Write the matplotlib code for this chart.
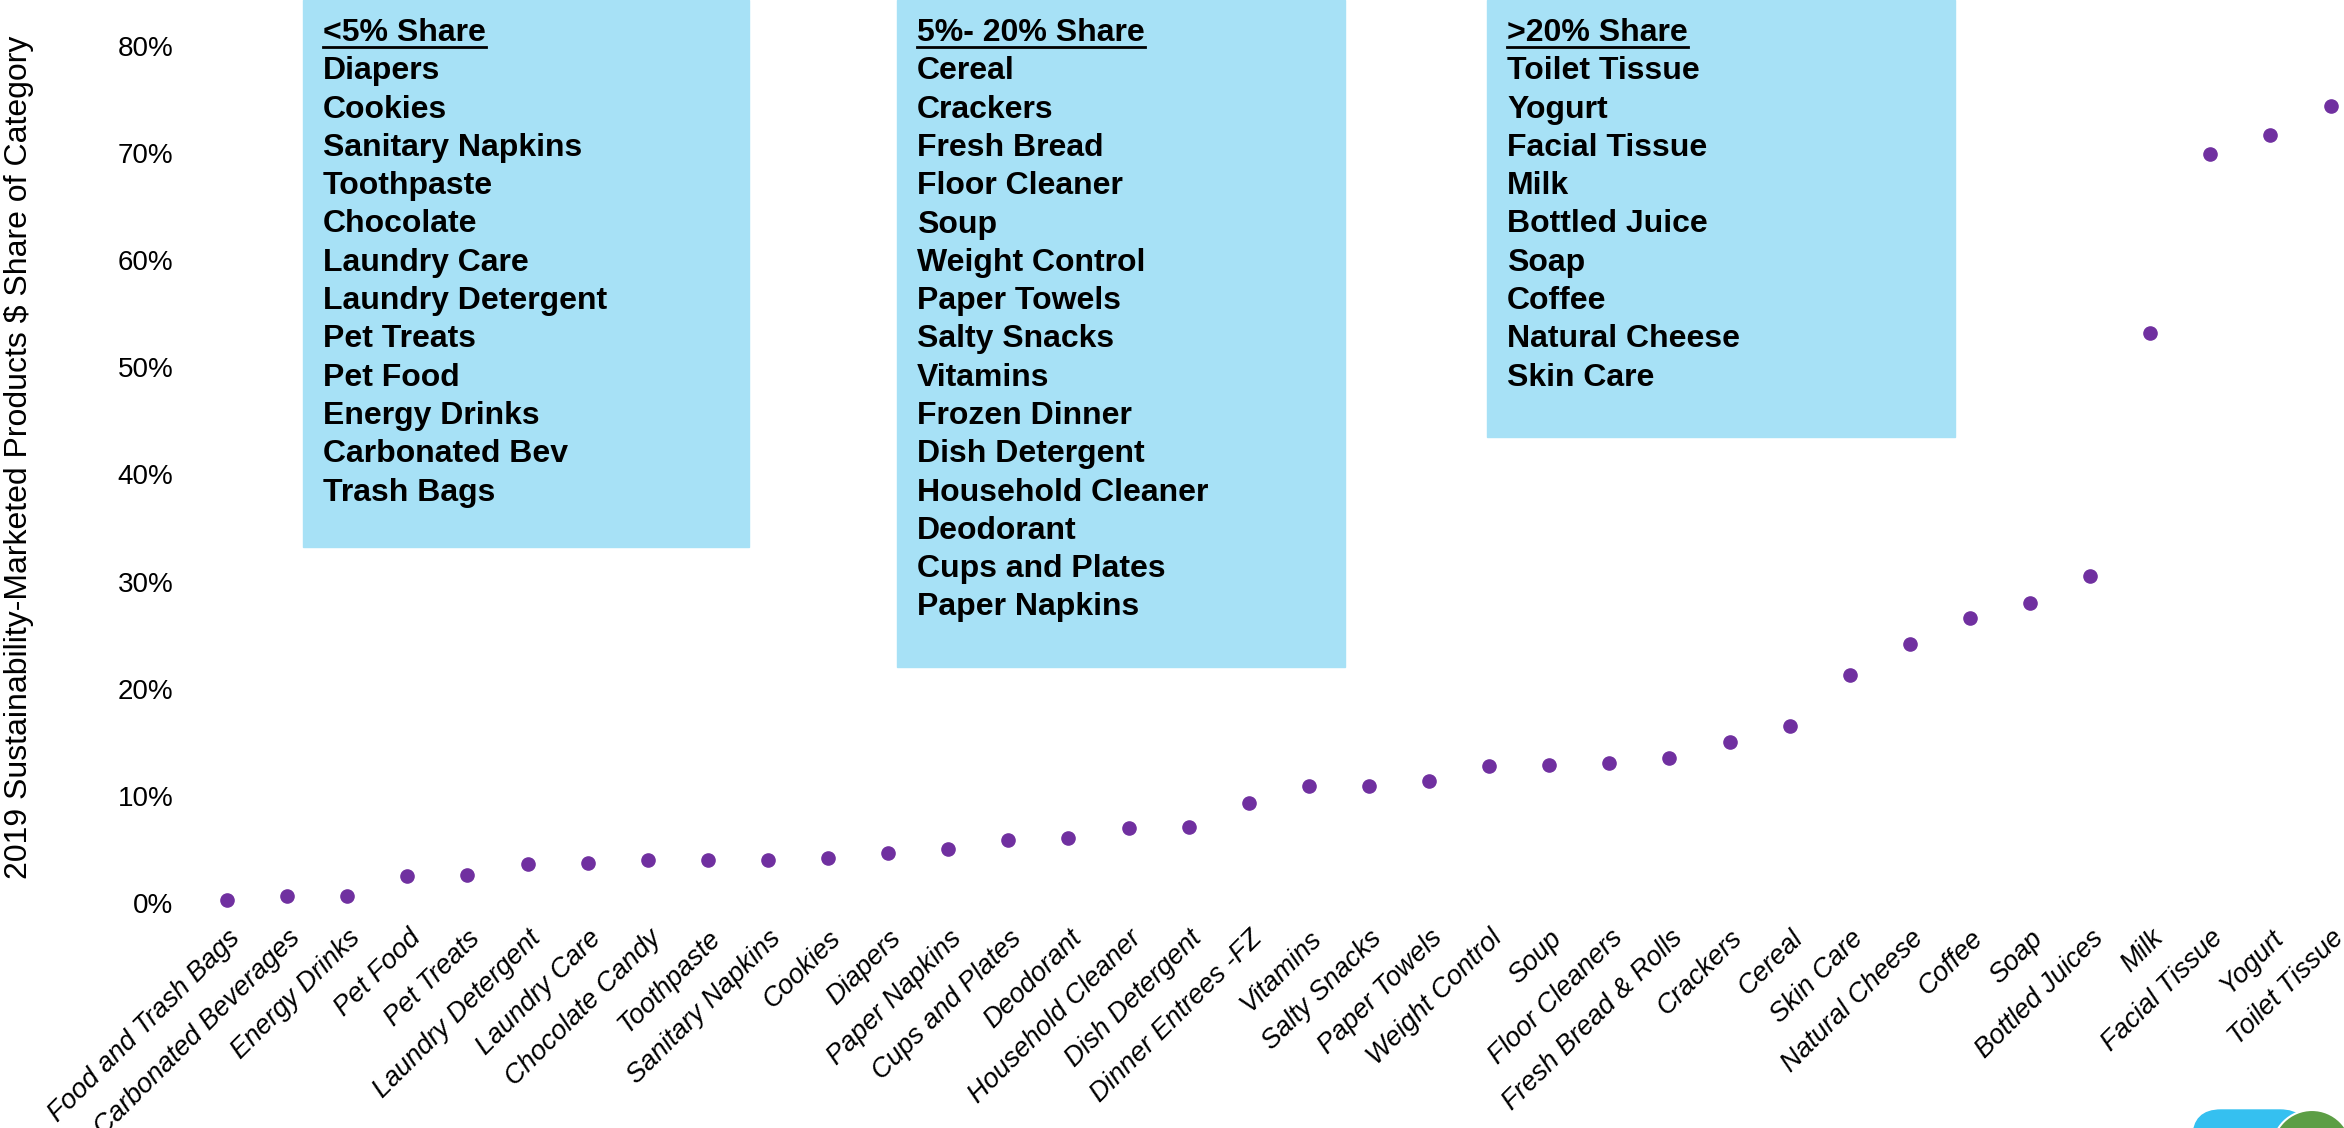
import matplotlib
matplotlib.use('Agg')
import matplotlib.pyplot as plt
from matplotlib.patches import Rectangle, Ellipse, FancyBboxPatch
from matplotlib.ticker import PercentFormatter

categories = ['Food and Trash Bags', 'Carbonated Beverages', 'Energy Drinks', 'Pet Food',
              'Pet Treats', 'Laundry Detergent', 'Laundry Care', 'Chocolate Candy',
              'Toothpaste', 'Sanitary Napkins', 'Cookies', 'Diapers', 'Paper Napkins',
              'Cups and Plates', 'Deodorant', 'Household Cleaner', 'Dish Detergent',
              'Dinner Entrees -FZ', 'Vitamins', 'Salty Snacks', 'Paper Towels',
              'Weight Control', 'Soup', 'Floor Cleaners', 'Fresh Bread & Rolls',
              'Crackers', 'Cereal', 'Skin Care', 'Natural Cheese', 'Coffee', 'Soap',
              'Bottled Juices', 'Milk', 'Facial Tissue', 'Yogurt', 'Toilet Tissue']
share = [0.3, 0.7, 0.7, 2.5, 2.6, 3.6, 3.7, 4.0, 4.0, 4.0, 4.2, 4.7, 5.0, 5.9, 6.1,
         7.0, 7.1, 9.3, 10.9, 10.9, 11.4, 12.8, 12.9, 13.1, 13.5, 15.0, 16.5, 21.3,
         24.2, 26.6, 28.0, 30.5, 53.2, 69.9, 71.7, 74.4]
yticks = [0, 10, 20, 30, 40, 50, 60, 70, 80]

low_title = '<5% Share'
low_items = ['Diapers', 'Cookies', 'Sanitary Napkins', 'Toothpaste', 'Chocolate',
             'Laundry Care', 'Laundry Detergent', 'Pet Treats', 'Pet Food',
             'Energy Drinks', 'Carbonated Bev', 'Trash Bags']
mid_title = '5%- 20% Share'
mid_items = ['Cereal', 'Crackers', 'Fresh Bread', 'Floor Cleaner', 'Soup',
             'Weight Control', 'Paper Towels', 'Salty Snacks', 'Vitamins',
             'Frozen Dinner', 'Dish Detergent', 'Household Cleaner', 'Deodorant',
             'Cups and Plates', 'Paper Napkins']
high_title = '>20% Share'
high_items = ['Toilet Tissue', 'Yogurt', 'Facial Tissue', 'Milk', 'Bottled Juice',
              'Soap', 'Coffee', 'Natural Cheese', 'Skin Care']

W, H = 2344, 1128
plt.rcParams['font.family'] = ['Liberation Sans', 'DejaVu Sans']
fig = plt.figure(figsize=(W / 100, H / 100), dpi=100)

# overlay in pixel coords (origin top-left) for the boxes and logo
ov = fig.add_axes([0, 0, 1, 1], zorder=0)
ov.set_xlim(0, W)
ov.set_ylim(H, 0)
ov.axis('off')

# chart axes: 0% at y=903, 80% at y=46, first point x=227, step 60.1 px
ax_left, ax_bot, ax_top = 197, 903, 46
ax = fig.add_axes([ax_left / W, 1 - ax_bot / H, 1 - ax_left / W, (ax_bot - ax_top) / H],
                  zorder=2)
x = list(range(len(categories)))
ax.plot(x, share, 'o', color='#7030a0', markersize=9.5, clip_on=False)
ax.set_xlim(-0.5, -0.5 + (W - ax_left) / 60.1)
ax.set_ylim(0, 80)
ax.set_yticks(yticks)
ax.yaxis.set_major_formatter(PercentFormatter(decimals=0))
ax.set_xticks(x)
ax.set_xticklabels(categories, rotation=45, ha='right', rotation_mode='anchor',
                   style='italic', fontsize=19.5)
ax.tick_params(axis='x', length=0, pad=16)
ax.tick_params(axis='y', length=0, pad=17, labelsize=20)
for s in ax.spines.values():
    s.set_visible(False)
ax.patch.set_alpha(0)

ov.text(19, 457, '2019 Sustainability-Marketed Products $ Share of Category',
        rotation=90, ha='center', va='center', fontsize=23)

box_font = ['Liberation Sans Narrow', 'Liberation Sans']
boxes = [(303, 749, 547, low_title, low_items),
         (897, 1345, 667, mid_title, mid_items),
         (1487, 1955, 437, high_title, high_items)]
headers = []
for x0, x1, y1, title, items in boxes:
    ov.add_patch(Rectangle((x0, 0), x1 - x0, y1, color='#a7e1f6', zorder=0))
    for i, t in enumerate([title] + items):
        txt = ov.text(x0 + 20, 33 + i * 38.3, t, ha='left', va='center',
                      fontsize=23, fontweight='bold', family=box_font)
        if i == 0:
            headers.append(txt)

# underline the headers
fig.canvas.draw()
r = fig.canvas.get_renderer()
for txt in headers:
    bb = txt.get_window_extent(r)
    yl = H - bb.y0 - 1
    ov.plot([bb.x0, bb.x1], [yl, yl], color='black', lw=2)

# logo remnants at bottom-right corner
ov.add_patch(FancyBboxPatch((2193, 1110), 115, 80,
                            boxstyle='round,pad=0,rounding_size=28',
                            color='#35c0f0', zorder=1))
ov.add_patch(Ellipse((2312, 1150), 80, 80, facecolor='#5c9e45', edgecolor='white',
                     lw=1.5, zorder=2))

fig.savefig('out.png', dpi=100)
